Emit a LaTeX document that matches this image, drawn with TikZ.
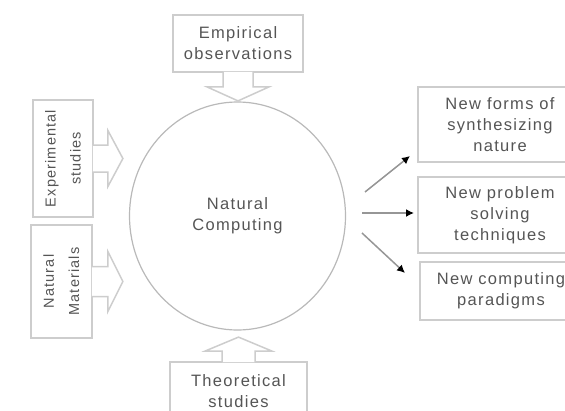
\documentclass[tikz,border=0pt]{standalone}
\usepackage{fontspec}
\setmainfont{Liberation Sans}[LetterSpace=8]
\usepackage{graphicx}
\usetikzlibrary{shapes.geometric,arrows.meta,calc}

\definecolor{chenar}{RGB}{205,205,205}
\definecolor{linie}{RGB}{185,185,185}
\definecolor{textgri}{RGB}{85,85,85}
\definecolor{sageata}{RGB}{150,150,150}

% text rotit in cutiile din stanga
\newcommand{\textrot}[2]{\rotatebox{90}{\fontsize{14.5}{25}\selectfont\begin{tabular}{@{}c@{}}#1\\#2\end{tabular}}}

\tikzset{
  cutie/.style={draw=chenar,line width=1.8pt,text=textgri,align=center,inner sep=0pt,
    font=\fontsize{16.5}{21}\selectfont},
  blocsag/.style={draw=chenar,line width=1.5pt,fill=white,line join=miter},
  sag/.style={draw=sageata,line width=1.5pt,-{Latex[length=8pt,width=8pt,color=black]}}
}

\begin{document}
\begin{tikzpicture}[x=1pt,y=-1pt]
  \useasboundingbox (0,0) rectangle (565,410);
  \clip (0,0) rectangle (565,410);

  % cercul din mijloc
  \node[ellipse,draw=linie,line width=1.2pt,minimum width=216pt,minimum height=228pt,inner sep=0pt,
    text=textgri,align=center,font=\fontsize{16.5}{21}\selectfont] (nc) at (237.5,216) {Natural\\Computing};

  % cutia de sus si cea de jos
  \node[cutie,minimum width=130pt,minimum height=57pt] (emp) at (238,43.5) {Empirical\\observations};
  \node[cutie,minimum width=137pt,minimum height=58pt] (theo) at (238.5,391) {Theoretical\\studies};

  % cutiile din stanga
  \node[cutie,minimum width=60pt,minimum height=117pt] (expst) at (63,158.5) {\textrot{Experimental}{studies}};
  \node[cutie,minimum width=61pt,minimum height=113pt] (natmat) at (61.5,281.5) {\textrot{Natural}{Materials}};

  % cutiile din dreapta
  \node[cutie,minimum width=164pt,minimum height=75pt] (forms) at (500,124.5) {New forms of\\synthesizing\\nature};
  \node[cutie,minimum width=164pt,minimum height=76pt] (probs) at (500,215) {New problem\\solving\\techniques};
  \node[cutie,minimum width=162pt,minimum height=58pt] (parad) at (501,291) {New computing\\paradigms};

  % sageti bloc spre cerc
  \filldraw[blocsag] ($(emp.south)+(-15,-1)$) -- ++(0,15) -- ++(-16,0) -- ++(31,14) -- ++(31,-14) -- ++(-16,0) -- ++(0,-15);
  \filldraw[blocsag] ($(theo.north)+(-16.5,1)$) -- ++(0,-11) -- ++(-17,0) -- ++(33.5,-14) -- ++(33.5,14) -- ++(-17,0) -- ++(0,11);
  \filldraw[blocsag] ($(expst.east)+(-1,-13.5)$) -- ++(15,0) -- ++(0,-14.5) -- ++(15,28) -- ++(-15,28) -- ++(0,-14.5) -- ++(-15,0);
  \filldraw[blocsag] ($(natmat.east)+(-1,-15)$) -- ++(16,0) -- ++(0,-15) -- ++(15,30) -- ++(-15,30) -- ++(0,-15) -- ++(-16,0);

  % sagetile spre dreapta
  \coordinate (s1) at (365,192);
  \coordinate (t1) at (410,156);
  \coordinate (s2) at (362,213);
  \coordinate (t2) at (414,213);
  \coordinate (s3) at (362,233);
  \coordinate (t3) at (405,273);
  \draw[sag] (s1) -- (t1);
  \draw[sag] (s2) -- (t2);
  \draw[sag] (s3) -- (t3);
\end{tikzpicture}
\end{document}
